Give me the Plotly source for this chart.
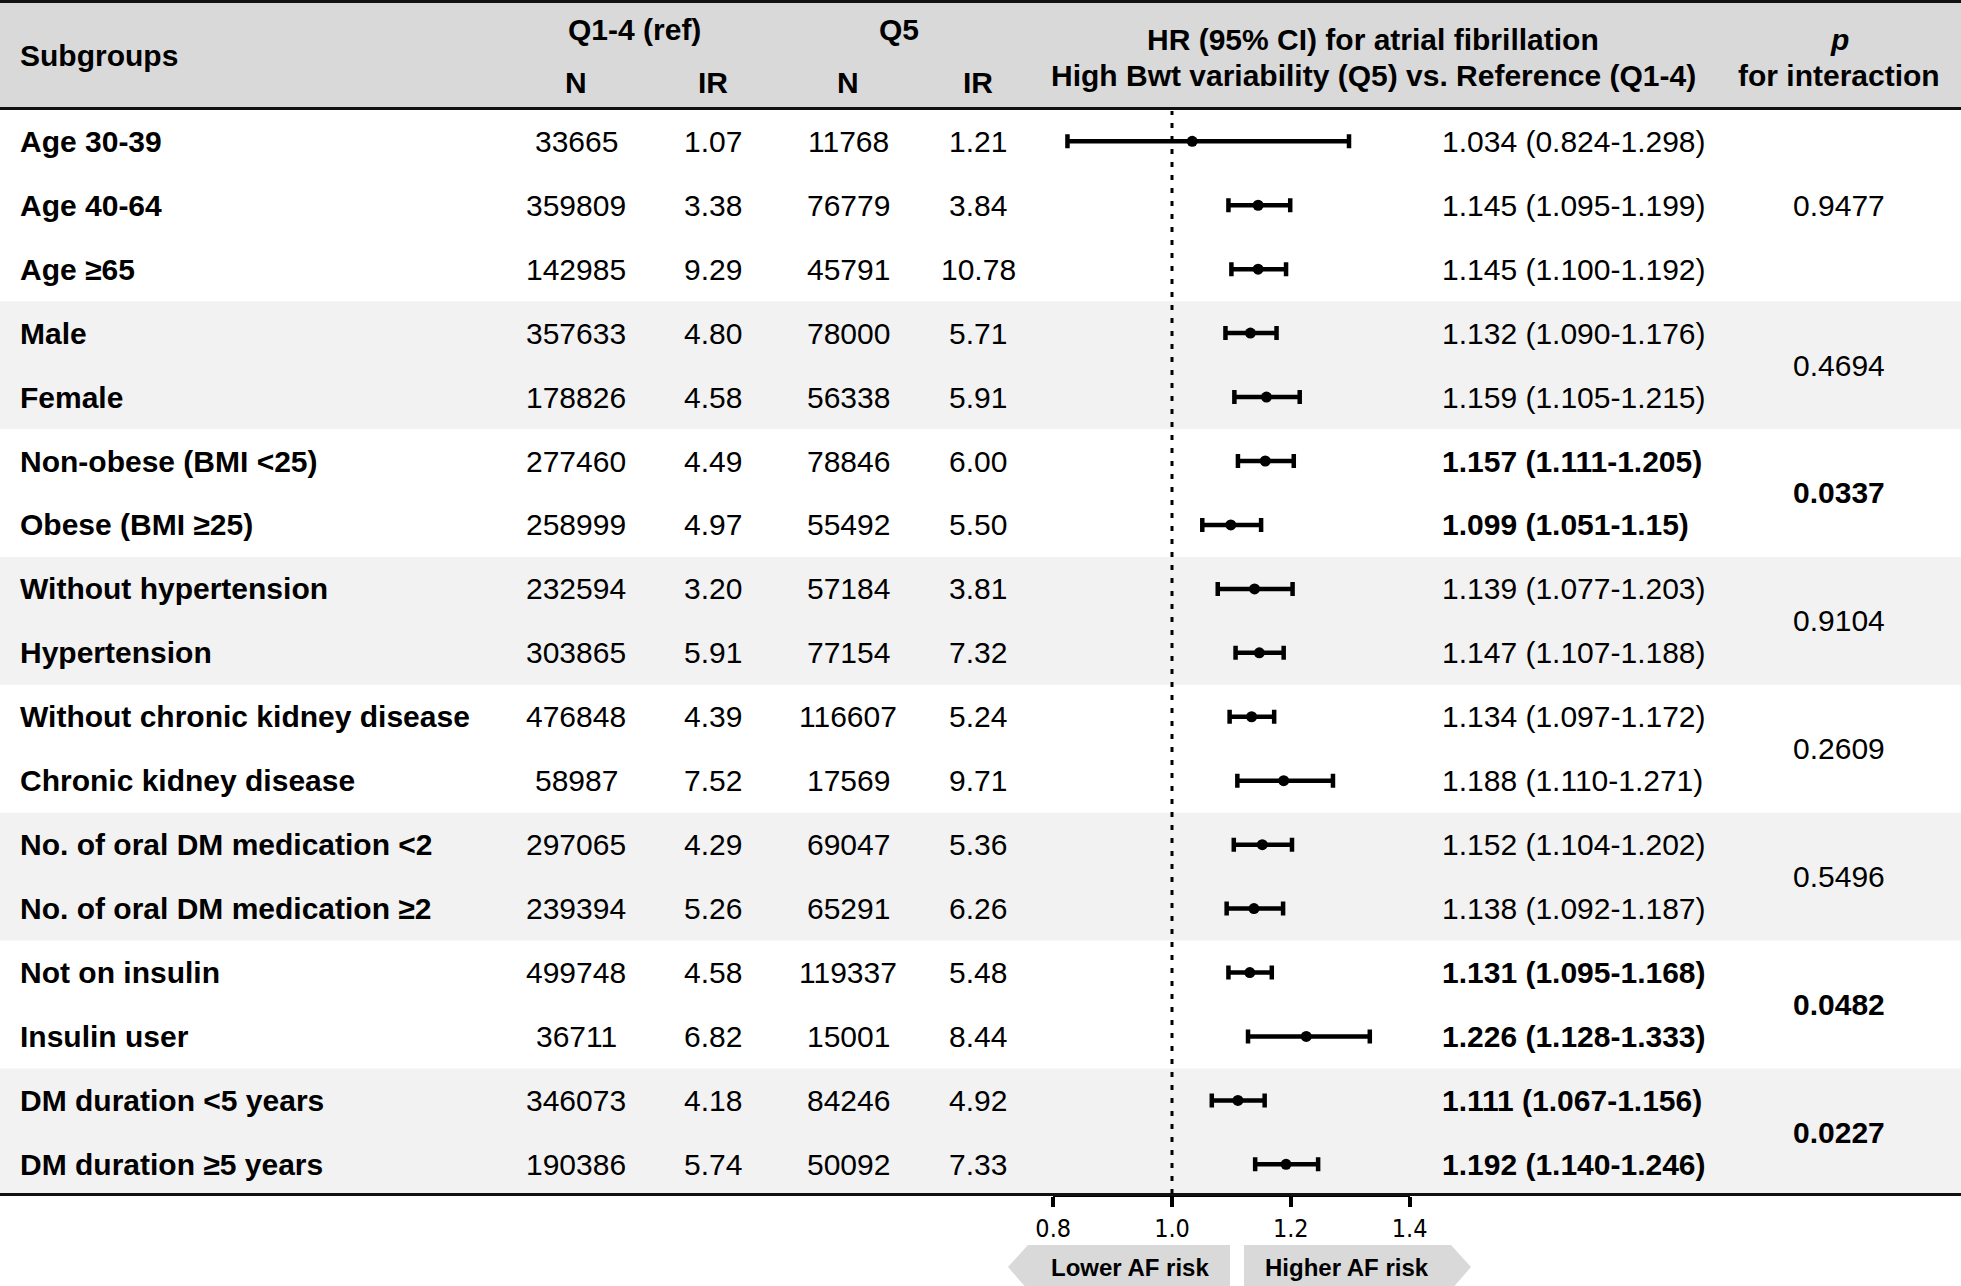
import plotly.graph_objects as go

# ---------------- data ----------------
subgroups = ["Age 30-39", "Age 40-64", "Age ≥65", "Male", "Female",
             "Non-obese (BMI <25)", "Obese (BMI ≥25)", "Without hypertension", "Hypertension",
             "Without chronic kidney disease", "Chronic kidney disease",
             "No. of oral DM medication <2", "No. of oral DM medication ≥2",
             "Not on insulin", "Insulin user", "DM duration <5 years", "DM duration ≥5 years"]
ref_n = [33665, 359809, 142985, 357633, 178826, 277460, 258999, 232594, 303865,
         476848, 58987, 297065, 239394, 499748, 36711, 346073, 190386]
ref_ir = ["1.07", "3.38", "9.29", "4.80", "4.58", "4.49", "4.97", "3.20", "5.91",
          "4.39", "7.52", "4.29", "5.26", "4.58", "6.82", "4.18", "5.74"]
q5_n = [11768, 76779, 45791, 78000, 56338, 78846, 55492, 57184, 77154,
        116607, 17569, 69047, 65291, 119337, 15001, 84246, 50092]
q5_ir = ["1.21", "3.84", "10.78", "5.71", "5.91", "6.00", "5.50", "3.81", "7.32",
         "5.24", "9.71", "5.36", "6.26", "5.48", "8.44", "4.92", "7.33"]
hr = [1.034, 1.145, 1.145, 1.132, 1.159, 1.157, 1.099, 1.139, 1.147,
      1.134, 1.188, 1.152, 1.138, 1.131, 1.226, 1.111, 1.192]
hr_lo = [0.824, 1.095, 1.100, 1.090, 1.105, 1.111, 1.051, 1.077, 1.107,
         1.097, 1.110, 1.104, 1.092, 1.095, 1.128, 1.067, 1.140]
hr_hi = [1.298, 1.199, 1.192, 1.176, 1.215, 1.205, 1.15, 1.203, 1.188,
         1.172, 1.271, 1.202, 1.187, 1.168, 1.333, 1.156, 1.246]
hr_text = ["1.034 (0.824-1.298)", "1.145 (1.095-1.199)", "1.145 (1.100-1.192)",
           "1.132 (1.090-1.176)", "1.159 (1.105-1.215)", "1.157 (1.111-1.205)",
           "1.099 (1.051-1.15)", "1.139 (1.077-1.203)", "1.147 (1.107-1.188)",
           "1.134 (1.097-1.172)", "1.188 (1.110-1.271)", "1.152 (1.104-1.202)",
           "1.138 (1.092-1.187)", "1.131 (1.095-1.168)", "1.226 (1.128-1.333)",
           "1.111 (1.067-1.156)", "1.192 (1.140-1.246)"]
hr_bold = [False, False, False, False, False, True, True, False, False,
           False, False, False, False, True, True, True, True]
# groups: first row, last row, p for interaction, bold
group_first = [0, 3, 5, 7, 9, 11, 13, 15]
group_last = [2, 4, 6, 8, 10, 12, 14, 16]
p_inter = ["0.9477", "0.4694", "0.0337", "0.9104", "0.2609", "0.5496", "0.0482", "0.0227"]
p_bold = [False, False, True, False, False, False, True, True]
group_shaded = [False, True, False, True, False, True, False, True]
tick_vals = [0.8, 1.0, 1.2, 1.4]
tick_text = ["0.8", "1.0", "1.2", "1.4"]

# ---------------- geometry ----------------
W, H = 1961, 1286
ROW0, ROWH = 141.3, 63.94          # pixel centre of first row, row pitch
X_ONE, PX_PER_UNIT = 1172.0, 594.0  # pixel of HR=1.0, pixels per HR unit


def px(x):
    return x / W


def py(y):
    return 1 - y / H


def row_of_px(y):
    return (y - ROW0) / ROWH


FONT = "Liberation Sans, Arial, sans-serif"
BLACK = "#000000"
LINE = "#111111"

fig = go.Figure()

# forest points with CI
fig.add_trace(go.Scatter(
    x=hr, y=list(range(len(hr))), mode="markers",
    marker=dict(symbol="circle", size=11, color=BLACK),
    error_x=dict(type="data", symmetric=False,
                 array=[h - m for h, m in zip(hr_hi, hr)],
                 arrayminus=[m - l for m, l in zip(hr, hr_lo)],
                 color=BLACK, thickness=4.5, width=7),
    hoverinfo="skip", showlegend=False, xaxis="x", yaxis="y"))

# invisible trace to carry the visible HR axis
fig.add_trace(go.Scatter(x=[0.8, 1.4], y=[None, None], mode="markers",
                         marker=dict(opacity=0), hoverinfo="skip",
                         showlegend=False, xaxis="x2", yaxis="y"))

shapes = []
# header band
shapes.append(dict(type="rect", xref="paper", yref="paper", x0=0, x1=1,
                   y0=py(108), y1=1, fillcolor="#d9d9d9", line=dict(width=0), layer="below"))
# shaded row groups
for f, l, s in zip(group_first, group_last, group_shaded):
    if s:
        shapes.append(dict(type="rect", xref="paper", yref="y", x0=0, x1=1,
                           y0=f - 0.5, y1=l + 0.5, fillcolor="#f2f2f2",
                           line=dict(width=0), layer="below"))
# horizontal rules
for yy in (1.5, 108.5, 1194.5):
    shapes.append(dict(type="line", xref="paper", yref="paper", x0=0, x1=1,
                       y0=py(yy), y1=py(yy), line=dict(color=LINE, width=3)))
# reference line at HR = 1
shapes.append(dict(type="line", xref="x", yref="paper", x0=1, x1=1,
                   y0=py(1194), y1=py(111), line=dict(color=BLACK, width=3, dash="5px,8px")))


# arrows
def path(pts):
    return "M " + " L ".join(f"{px(a):.5f},{py(b):.5f}" for a, b in pts) + " Z"


shapes.append(dict(type="path", xref="paper", yref="paper",
                   path=path([(1008, 1267), (1028, 1245), (1230, 1245), (1230, 1290), (1028, 1290)]),
                   fillcolor="#d9d9d9", line=dict(width=0)))
shapes.append(dict(type="path", xref="paper", yref="paper",
                   path=path([(1244, 1245), (1451, 1245), (1471, 1267), (1451, 1290), (1244, 1290)]),
                   fillcolor="#d9d9d9", line=dict(width=0)))

ann = []


def txt(x, y, s, anchor="center", size=30, bold=False, yref="paper", family=FONT):
    if bold:
        s = f"<b>{s}</b>"
    ann.append(dict(x=px(x), y=(py(y) if yref == "paper" else y), xref="paper", yref=yref,
                    text=s, showarrow=False, xanchor=anchor, yanchor="middle",
                    font=dict(family=family, size=size, color=BLACK)))


# header
txt(18, 55, "Subgroups", "left", bold=True)
txt(634, 30, "Q1-4 (ref)", bold=True)
txt(899, 30, "Q5", bold=True)
txt(576, 83, "N", bold=True)
txt(713, 83, "IR", bold=True)
txt(848, 83, "N", bold=True)
txt(978, 83, "IR", bold=True)
txt(1373, 40, "HR (95% CI) for atrial fibrillation", bold=True)
txt(1373, 76, "High Bwt variability (Q5) vs. Reference (Q1-4)", bold=True)
txt(1839, 40, "<i>p</i>", bold=True)
txt(1839, 76, "for interaction", bold=True)

# rows
for i in range(len(subgroups)):
    txt(18, i, subgroups[i], "left", bold=True, yref="y")
    txt(576, i, str(ref_n[i]), yref="y")
    txt(713, i, ref_ir[i], yref="y")
    txt(848, i, str(q5_n[i]), yref="y")
    txt(978, i, q5_ir[i], yref="y")
    txt(1440, i, hr_text[i], "left", bold=hr_bold[i], yref="y")

for f, l, p, b in zip(group_first, group_last, p_inter, p_bold):
    txt(1839, (f + l) / 2, p, bold=b, yref="y")

# arrow labels
txt(1130, 1267, "Lower AF risk", size=24, bold=True)
txt(1347, 1267, "Higher AF risk", size=24, bold=True)

x_lo = 1 - X_ONE / PX_PER_UNIT
x_hi = 1 + (W - X_ONE) / PX_PER_UNIT
ax_left_px = X_ONE + (0.8 - 1) * PX_PER_UNIT
ax_right_px = X_ONE + (1.4 - 1) * PX_PER_UNIT

fig.update_layout(
    width=W, height=H, margin=dict(l=0, r=0, t=0, b=0, pad=0, autoexpand=False),
    paper_bgcolor="white", plot_bgcolor="rgba(0,0,0,0)",
    shapes=shapes, annotations=ann, showlegend=False,
    xaxis=dict(domain=[0, 1], range=[x_lo, x_hi], visible=False, fixedrange=True),
    xaxis2=dict(domain=[px(ax_left_px), px(ax_right_px)], range=[0.8, 1.4],
                anchor="free", position=py(1194.5), showgrid=False, zeroline=False,
                showline=True, linecolor=BLACK, linewidth=4, automargin=False,
                ticks="outside", ticklen=10, tickwidth=4, tickcolor=BLACK,
                tickvals=tick_vals, ticktext=tick_text, ticklabelstandoff=0,
                tickfont=dict(family="Liberation Sans Narrow, DejaVu Sans Condensed, Liberation Sans",
                              size=25, color=BLACK), fixedrange=True),
    yaxis=dict(domain=[0, 1], range=[row_of_px(H), row_of_px(0)], visible=False,
               fixedrange=True, automargin=False),
)

fig.write_html("out.html", config={"displayModeBar": False},
               post_script="document.body.style.margin='0';document.body.style.overflow='hidden';")
